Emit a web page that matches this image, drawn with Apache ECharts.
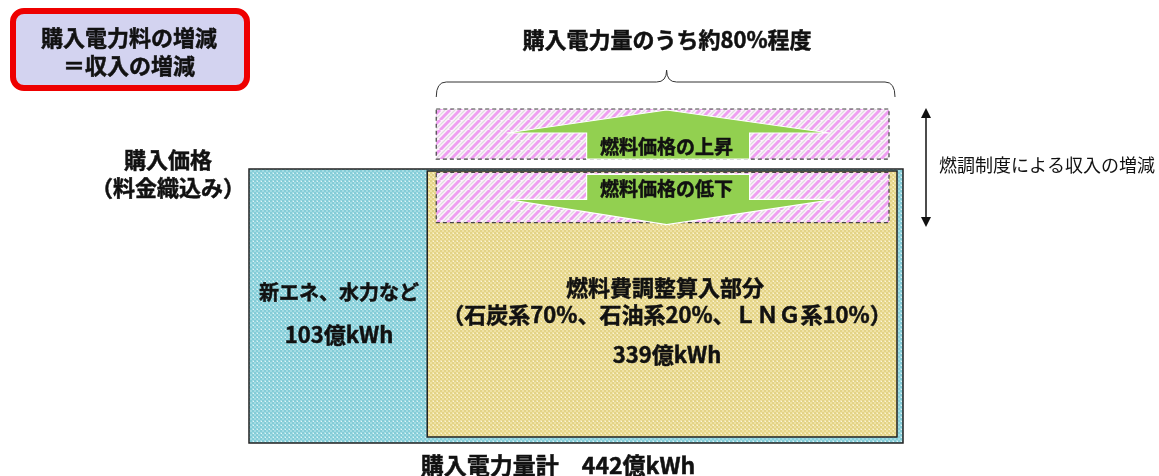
<!DOCTYPE html>
<html>
<head>
<meta charset="utf-8">
<script src="https://cdn.jsdelivr.net/npm/echarts@6/dist/echarts.min.js"></script>
<style>
  html, body { margin: 0; background: #fff; }
  #main { width: 1159px; height: 476px; }
</style>
</head>
<body>
<div id="main"></div>
<script>
// 購入電力量の内訳（億kWh）
const blockNames = ['新エネ、水力など', '燃料費調整算入部分'];
const blockEnergy = [103, 339];
const totalEnergy = 442;
// 燃料費調整算入部分の燃料構成（%）
const fuelTypes = ['石炭系', '石油系', 'ＬＮＧ系'];
const fuelShare = [70, 20, 10];
const fuelPortion = 80;
// 価格の目盛（相対値）
const basePrice = 82;
const priceBands = [[85, 100], [66, 81]];
const bandLabels = ['燃料価格の上昇', '燃料価格の低下'];

const FONT = '"Noto Sans CJK JP", "Noto Sans", sans-serif';

// パターン画像
function lattice(base, light, dot) {
    let c = document.createElement('canvas');
    c.width = 4; c.height = 4;
    let g = c.getContext('2d');
    g.fillStyle = base; g.fillRect(0, 0, 4, 4);
    g.fillStyle = light;
    g.fillRect(0, 0, 2, 2); g.fillRect(2, 2, 2, 2);
    g.fillStyle = dot;
    g.fillRect(1, 1, 1, 1);
    return c;
}
function stripes() {
    let c = document.createElement('canvas');
    c.width = 10; c.height = 10;
    let g = c.getContext('2d');
    g.fillStyle = '#fbf4fb'; g.fillRect(0, 0, 10, 10);
    g.strokeStyle = '#ef9ff1'; g.lineWidth = 3;
    for (let k = -10; k <= 10; k += 10) {
        g.beginPath(); g.moveTo(k, 10); g.lineTo(k + 10, 0); g.stroke();
    }
    g.strokeStyle = 'rgba(200,190,200,0.5)'; g.lineWidth = 1.2;
    for (let k = -5; k <= 15; k += 10) {
        g.beginPath(); g.moveTo(k, 10); g.lineTo(k + 10, 0); g.stroke();
    }
    return c;
}
let bluePat = { image: lattice('#84ccd7', '#a3dce4', '#e2f5f7'), repeat: 'repeat' };
let yellowPat = { image: lattice('#e3d386', '#efe2a5', '#fbf5da'), repeat: 'repeat' };
let pinkPat = { image: stripes(), repeat: 'repeat' };

let blockData = [
    [-24, totalEnergy, 0, basePrice],
    [blockEnergy[0], totalEnergy, 0, basePrice]
];
let bandData = priceBands.map(b => [blockEnergy[0], totalEnergy, b[0], b[1]]);

function renderBlock(params, api) {
    let p0 = api.coord([api.value(0), api.value(2)]);
    let p1 = api.coord([api.value(1), api.value(3)]);
    if (params.dataIndex === 0) {
        let x = params.coordSys.x;
        return {
            type: 'rect',
            shape: { x: x, y: p1[1], width: p1[0] - x, height: p0[1] - p1[1] },
            style: { fill: bluePat, stroke: '#222', lineWidth: 1.5 }
        };
    }
    return {
        type: 'rect',
        shape: { x: p0[0], y: p1[1] + 2, width: p1[0] - 6 - p0[0], height: p0[1] - 6 - p1[1] - 2 },
        style: { fill: yellowPat, stroke: '#222', lineWidth: 1.5 }
    };
}

function renderBand(params, api) {
    let p0 = api.coord([api.value(0), api.value(2)]);
    let p1 = api.coord([api.value(1), api.value(3)]);
    let x0 = p0[0] + 9, x1 = p1[0] - 14;
    let top = p1[1], bot = p0[1];
    let cx = (x0 + x1) / 2 + 4;
    let pts, ty;
    let children = [{
        type: 'rect',
        shape: { x: x0, y: top, width: x1 - x0, height: bot - top },
        style: { fill: pinkPat, stroke: '#444', lineWidth: 1.2, lineDash: [4, 3] }
    }];
    if (params.dataIndex === 0) {
        let hb = top + 24;
        pts = [[cx, top + 1], [cx + 163, hb], [cx + 83, hb], [cx + 83, bot], [cx - 80, bot], [cx - 80, hb], [cx - 160, hb]];
        ty = (hb + bot) / 2 + 1;
        // 上の波括弧
        let bx0 = x0, bx1 = x1 + 6, by = top - 27, mx = (bx0 + bx1) / 2 + 1;
        children.push({
            type: 'path',
            shape: {
                pathData: 'M' + bx0 + ',' + (by + 15) + ' Q' + bx0 + ',' + by + ' ' + (bx0 + 10) + ',' + by +
                    ' L' + (mx - 10) + ',' + by + ' Q' + mx + ',' + by + ' ' + mx + ',' + (by - 12) +
                    ' Q' + mx + ',' + by + ' ' + (mx + 10) + ',' + by +
                    ' L' + (bx1 - 10) + ',' + by + ' Q' + bx1 + ',' + by + ' ' + bx1 + ',' + (by + 15)
            },
            style: { fill: null, stroke: '#333', lineWidth: 1 }
        });
    } else {
        let st = top + 2, hb = top + 27;
        pts = [[cx - 80, st], [cx + 83, st], [cx + 83, hb], [cx + 168, hb], [cx, bot + 2], [cx - 160, hb], [cx - 80, hb]];
        ty = (st + hb) / 2 + 2;
    }
    children.push({
        type: 'polygon',
        shape: { points: pts },
        style: { fill: '#92d050', stroke: '#ffffff', lineWidth: 1.2 }
    }, {
        type: 'text',
        style: {
            text: bandLabels[params.dataIndex], x: cx, y: ty,
            align: 'center', verticalAlign: 'middle',
            font: 'bold 19px ' + FONT, fill: '#111', stroke: '#111', lineWidth: 0.5
        }
    });
    return { type: 'group', children: children };
}

function label(text, x, y, size, bold) {
    let heavy = bold !== false;
    return {
        type: 'text', silent: true, z: 100,
        style: {
            text: text, x: x, y: y, textAlign: 'center', textVerticalAlign: 'middle',
            font: (heavy ? 'bold ' : '') + size + 'px ' + FONT, fill: '#111',
            stroke: heavy ? '#111' : null, lineWidth: heavy ? 0.5 : 0
        }
    };
}

let fuelText = '（' + fuelTypes.map((f, i) => f + fuelShare[i] + '%').join('、') + '）';

let chart = echarts.init(document.getElementById('main'));
chart.setOption({
    animation: false,
    grid: { left: 249, right: 256, top: 109, bottom: 33 },
    xAxis: { type: 'value', min: -24, max: totalEnergy, show: false },
    yAxis: { type: 'value', min: 0, max: 100, show: false },
    series: [{
        type: 'custom', name: 'blocks', clip: false, z: 1,
        renderItem: renderBlock, data: blockData, silent: true
    }, {
        type: 'custom', name: 'bands', clip: false, z: 2,
        renderItem: renderBand, data: bandData, silent: true
    }],
    graphic: [
        {
            type: 'rect', silent: true,
            shape: { x: 13, y: 11, width: 234, height: 77, r: 11 },
            style: { fill: '#d3d3f0', stroke: '#ee0000', lineWidth: 6 }
        },
        label('購入電力料の増減', 129, 38, 22),
        label('＝収入の増減', 129, 66, 22),
        label('購入電力量のうち約' + fuelPortion + '%程度', 667, 40, 22),
        label('購入価格', 168, 160, 22),
        label('（料金織込み）', 168, 188, 22),
        label(blockNames[0], 339, 292, 20),
        label(blockEnergy[0] + '億kWh', 339, 335, 22),
        label(blockNames[1], 665, 288, 22),
        label(fuelText, 667, 315, 22),
        label(blockEnergy[1] + '億kWh', 667, 355, 22),
        label('購入電力量計　' + totalEnergy + '億kWh', 558, 465, 23),
        {
            type: 'line', silent: true,
            shape: { x1: 926, y1: 116, x2: 926, y2: 219 },
            style: { stroke: '#111', lineWidth: 1.5 }
        },
        {
            type: 'polygon', silent: true,
            shape: { points: [[926, 108], [921, 118], [931, 118]] },
            style: { fill: '#111' }
        },
        {
            type: 'polygon', silent: true,
            shape: { points: [[926, 227], [921, 217], [931, 217]] },
            style: { fill: '#111' }
        },
        label('燃調制度による収入の増減', 1047, 165, 18, false)
    ]
});
</script>
</body>
</html>
